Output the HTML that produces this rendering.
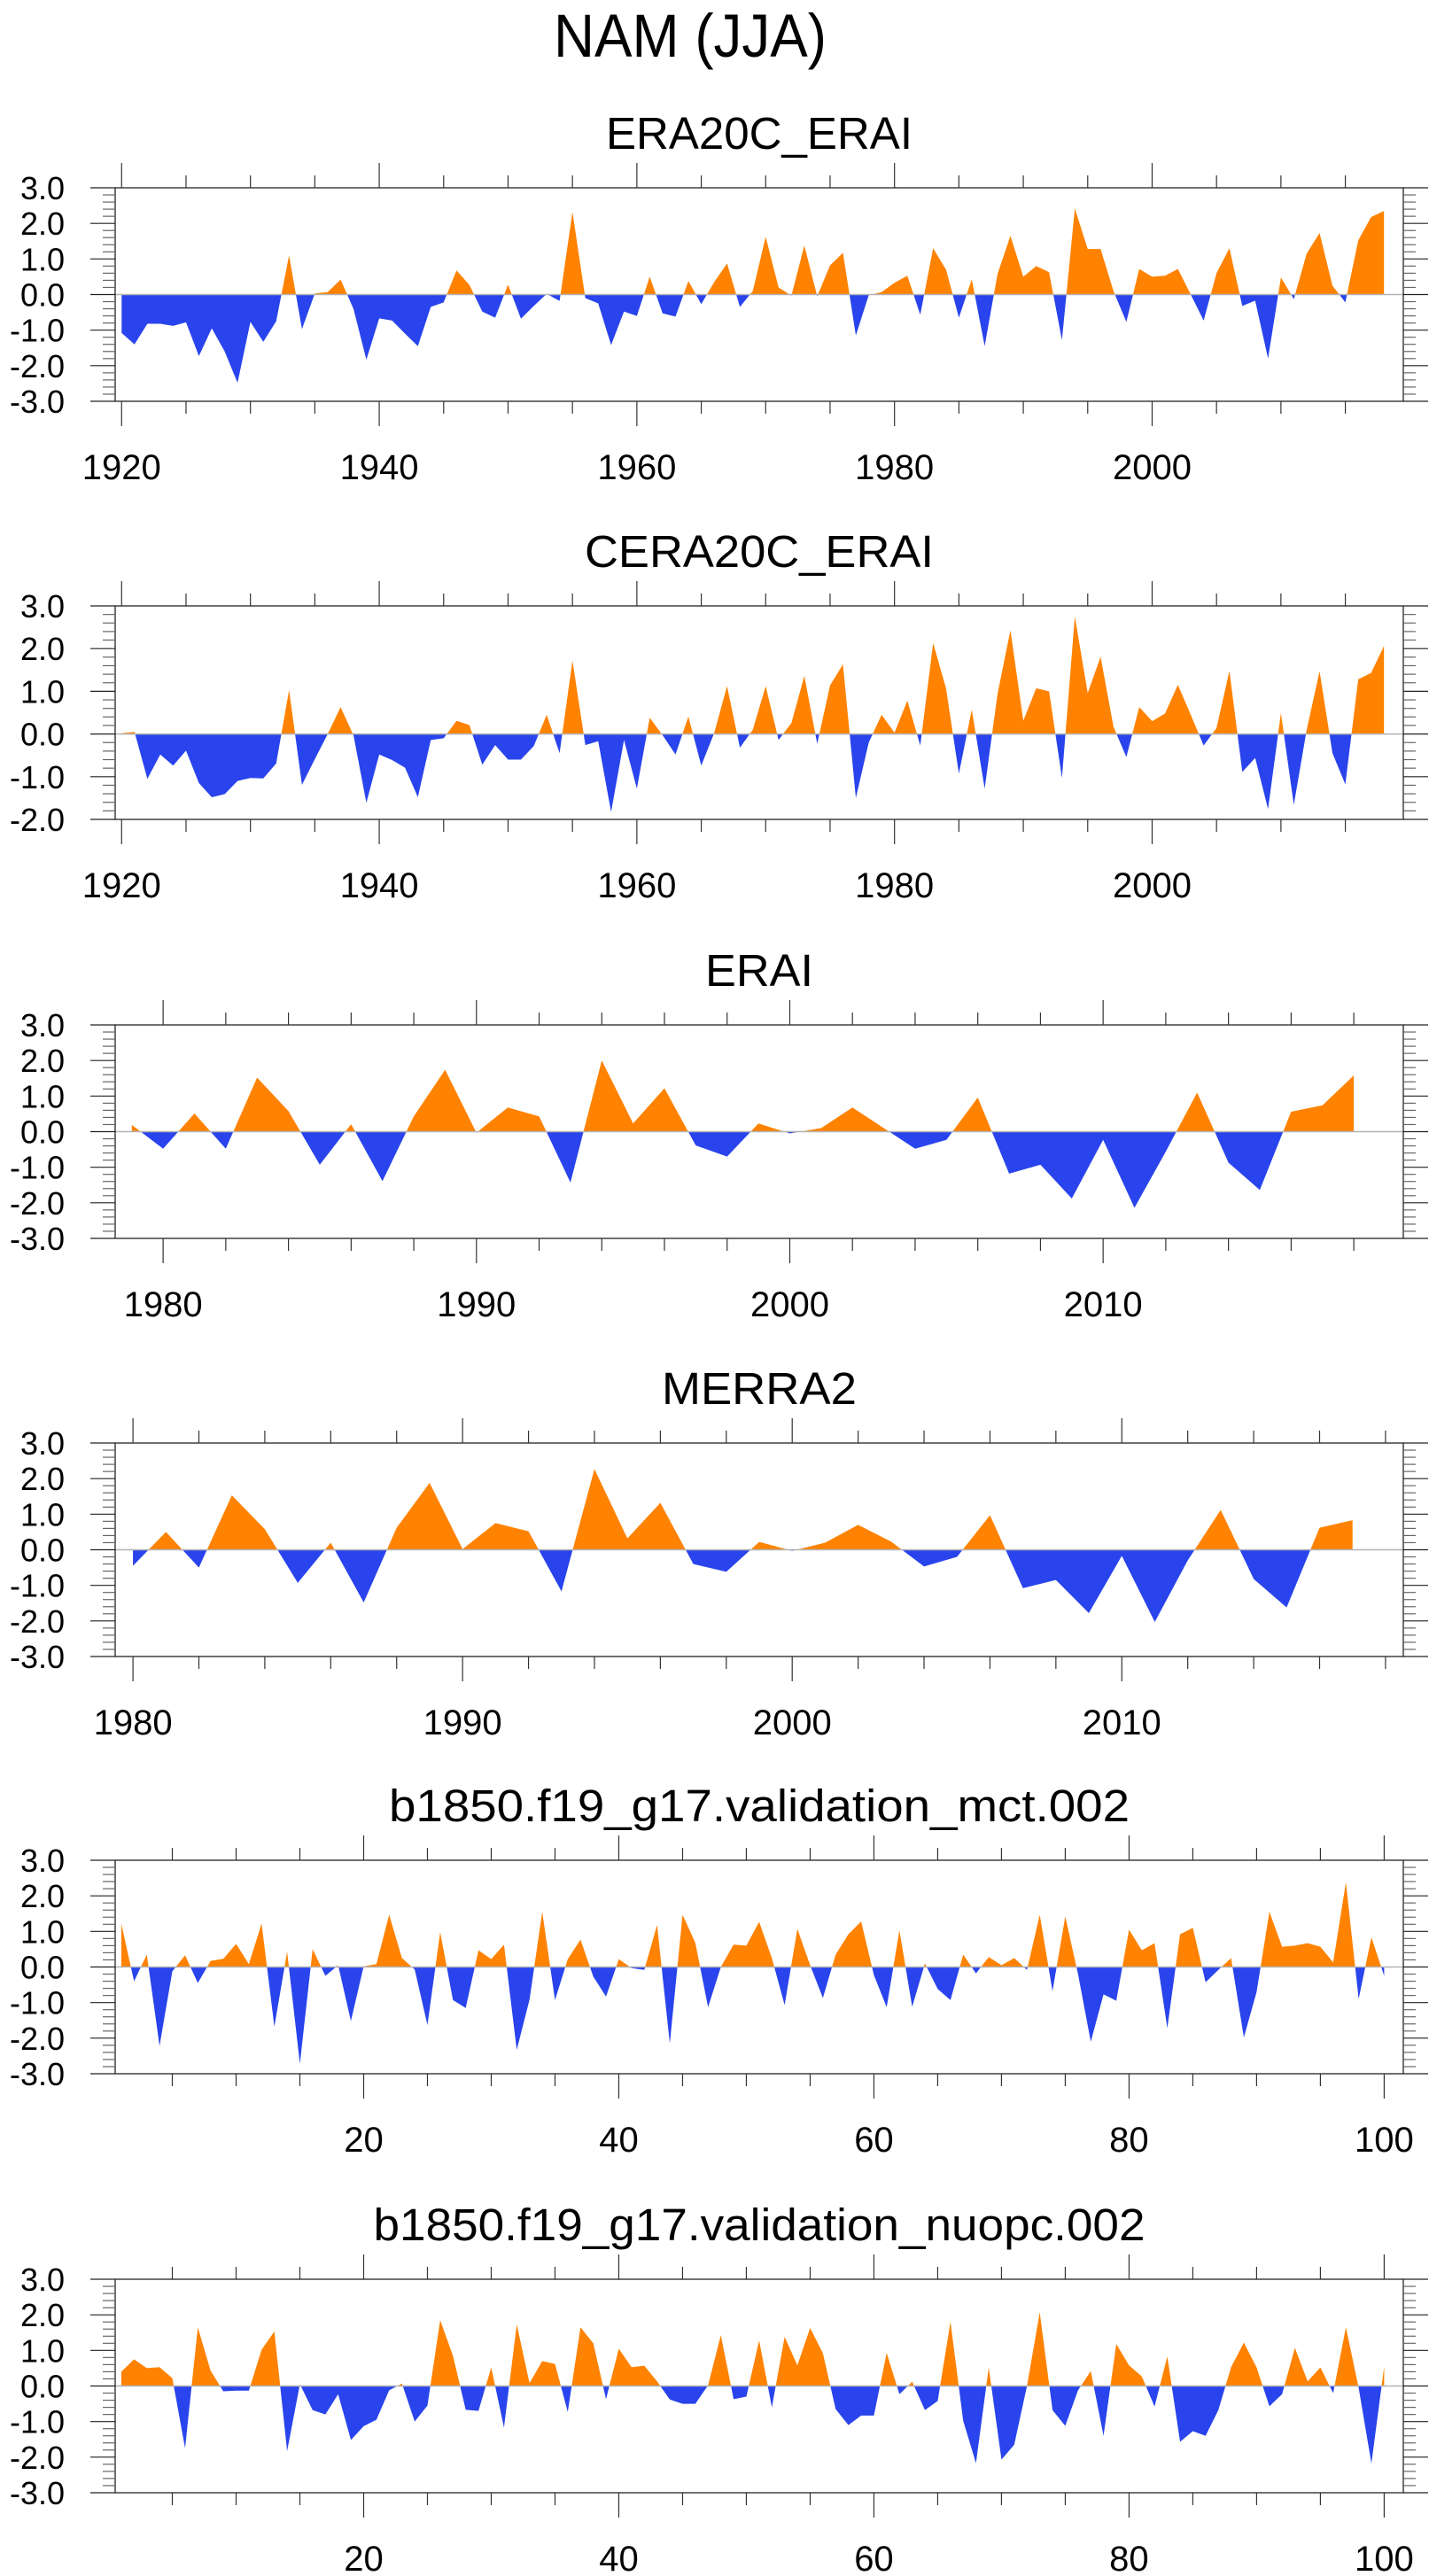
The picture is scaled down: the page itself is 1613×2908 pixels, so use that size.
<!DOCTYPE html>
<html><head><meta charset="utf-8"><title>NAM (JJA)</title>
<style>
html,body{margin:0;padding:0;background:#fff;}
svg{display:block;font-family:"Liberation Sans",Arial,sans-serif;}
</style></head>
<body>
<svg id="chart" width="1613" height="2908" viewBox="0 0 1613 2908" xmlns="http://www.w3.org/2000/svg">
<rect width="1613" height="2908" fill="#fff"/>
<text x="779" y="64" font-size="69" text-anchor="middle" textLength="308" lengthAdjust="spacingAndGlyphs">NAM (JJA)</text>
</svg>
<script>
// ---- data ----
const era20cStart = 1920;
const era20cValues = [-1.08,-1.4,-0.82,-0.82,-0.88,-0.78,-1.73,-0.95,-1.6,-2.48,-0.77,-1.33,-0.75,1.1,-0.97,0.03,0.07,0.42,-0.4,-1.83,-0.67,-0.73,-1.1,-1.45,-0.35,-0.22,0.68,0.27,-0.48,-0.65,0.28,-0.68,-0.32,0.02,-0.18,2.32,-0.1,-0.25,-1.42,-0.48,-0.6,0.5,-0.53,-0.62,0.38,-0.27,0.35,0.87,-0.35,0.1,1.62,0.2,-0.03,1.38,-0.05,0.82,1.17,-1.15,-0.02,0.07,0.33,0.53,-0.57,1.3,0.7,-0.65,0.43,-1.45,0.58,1.65,0.5,0.8,0.63,-1.28,2.42,1.28,1.28,0.1,-0.77,0.72,0.5,0.53,0.72,0.0,-0.73,0.6,1.3,-0.32,-0.17,-1.8,0.48,-0.13,1.15,1.73,0.25,-0.22,1.52,2.18,2.35];
const cera20cStart = 1920;
const cera20cValues = [0.02,0.05,-1.05,-0.48,-0.74,-0.39,-1.15,-1.48,-1.41,-1.1,-1.03,-1.04,-0.69,1.03,-1.19,-0.59,0.0,0.63,-0.03,-1.61,-0.48,-0.61,-0.79,-1.48,-0.14,-0.1,0.31,0.21,-0.72,-0.26,-0.6,-0.6,-0.28,0.45,-0.45,1.72,-0.26,-0.17,-1.83,-0.14,-1.28,0.38,-0.03,-0.48,0.41,-0.74,0.02,1.12,-0.32,0.1,1.12,-0.14,0.26,1.36,-0.23,1.14,1.63,-1.5,-0.2,0.45,0.03,0.78,-0.27,2.13,1.07,-0.93,0.57,-1.28,0.94,2.43,0.31,1.07,1.0,-1.03,2.75,0.96,1.81,0.17,-0.54,0.63,0.3,0.48,1.15,0.45,-0.27,0.14,1.48,-0.89,-0.56,-1.76,0.49,-1.66,0.1,1.47,-0.45,-1.18,1.28,1.43,2.06];
const eraiStart = 1979;
const eraiValues = [0.19,-0.48,0.51,-0.48,1.52,0.58,-0.93,0.21,-1.39,0.43,1.74,-0.03,0.68,0.43,-1.43,2.0,0.23,1.22,-0.39,-0.7,0.23,-0.05,0.1,0.68,0.1,-0.48,-0.23,0.96,-1.18,-0.93,-1.88,-0.23,-2.14,-0.56,1.1,-0.87,-1.64,0.56,0.74,1.58];
const merra2Start = 1980;
const merra2Values = [-0.45,0.5,-0.5,1.53,0.58,-0.93,0.2,-1.48,0.62,1.88,0.02,0.75,0.52,-1.17,2.27,0.32,1.32,-0.4,-0.62,0.22,-0.03,0.2,0.7,0.23,-0.47,-0.2,0.97,-1.08,-0.85,-1.78,-0.17,-2.03,-0.3,1.12,-0.82,-1.62,0.62,0.83];
const mctStart = 1;
const mctValues = [1.22,-0.4,0.35,-2.22,-0.12,0.33,-0.45,0.17,0.23,0.65,0.08,1.22,-1.68,0.43,-2.72,0.5,-0.25,0.05,-1.52,0.02,0.08,1.47,0.25,-0.07,-1.63,0.98,-0.93,-1.15,0.47,0.22,0.63,-2.33,-0.92,1.55,-0.93,0.22,0.77,-0.27,-0.83,0.22,-0.03,-0.08,1.18,-2.15,1.47,0.68,-1.13,0.0,0.63,0.6,1.27,0.25,-1.07,1.07,0.05,-0.87,0.35,0.92,1.28,-0.23,-1.13,1.03,-1.12,0.1,-0.62,-0.93,0.35,-0.18,0.28,0.05,0.25,-0.08,1.47,-0.68,1.42,-0.2,-2.1,-0.77,-0.95,1.05,0.47,0.67,-1.72,0.92,1.1,-0.43,-0.08,0.25,-1.98,-0.7,1.55,0.57,0.6,0.67,0.57,0.13,2.38,-0.9,0.83,-0.25];
const nuopcStart = 1;
const nuopcValues = [0.4,0.75,0.5,0.53,0.22,-1.75,1.65,0.43,-0.15,-0.13,-0.13,1.02,1.53,-1.83,0.05,-0.68,-0.8,-0.23,-1.52,-1.13,-0.95,-0.12,0.07,-1.0,-0.55,1.85,0.85,-0.67,-0.7,0.52,-1.17,1.73,0.08,0.7,0.62,-0.73,1.65,1.2,-0.37,1.05,0.53,0.57,0.13,-0.38,-0.5,-0.5,0.02,1.43,-0.37,-0.3,1.28,-0.6,1.38,0.58,1.63,0.92,-0.65,-1.1,-0.83,-0.83,0.93,-0.23,0.12,-0.68,-0.42,1.8,-0.98,-2.17,0.52,-2.07,-1.65,0.0,2.07,-0.68,-1.12,-0.12,0.42,-1.4,1.18,0.58,0.27,-0.58,0.83,-1.57,-1.27,-1.4,-0.68,0.53,1.22,0.52,-0.57,-0.23,1.07,0.13,0.52,-0.2,1.65,-0.05,-2.18,0.55];
const era20cTicks = [1920,1940,1960,1980,2000];
const eraiTicks = [1980,1990,2000,2010];
const expTicks = [20,40,60,80,100];
const yTicksFull = [3,2,1,0,-1,-2,-3];
const yTicksCera = [3,2,1,0,-1,-2];

// ---- layout ----
const NS = "http://www.w3.org/2000/svg";
const svg = document.getElementById('chart');
const FL = 130, FR = 1584;
const panels = [
 {name:'era20c-erai', title:'ERA20C_ERAI', tw:346, top:212, start:era20cStart, vals:era20cValues, xmin:1919.5, xmax:2019.5, ymin:-3, ymax:3, ticks:era20cTicks, minor:5, minorFrom:1920, yt:yTicksFull},
 {name:'cera20c-erai', title:'CERA20C_ERAI', tw:394, top:684, start:cera20cStart, vals:cera20cValues, xmin:1919.5, xmax:2019.5, ymin:-2, ymax:3, ticks:era20cTicks, minor:5, minorFrom:1920, yt:yTicksCera},
 {name:'erai', title:'ERAI', tw:122, top:1157, start:eraiStart, vals:eraiValues, xmin:1978.47, xmax:2019.58, ymin:-3, ymax:3, ticks:eraiTicks, minor:2, minorFrom:1980, yt:yTicksFull},
 {name:'merra2', title:'MERRA2', tw:220, top:1629, start:merra2Start, vals:merra2Values, xmin:1979.46, xmax:2018.54, ymin:-3, ymax:3, ticks:eraiTicks, minor:2, minorFrom:1980, yt:yTicksFull},
 {name:'mct', title:'b1850.f19_g17.validation_mct.002', tw:836, top:2100, start:mctStart, vals:mctValues, xmin:0.52, xmax:101.5, ymin:-3, ymax:3, ticks:expTicks, minor:5, minorFrom:5, yt:yTicksFull},
 {name:'nuopc', title:'b1850.f19_g17.validation_nuopc.002', tw:871, top:2573, start:nuopcStart, vals:nuopcValues, xmin:0.52, xmax:101.5, ymin:-3, ymax:3, ticks:expTicks, minor:5, minorFrom:5, yt:yTicksFull}
];

function mk(tag, attrs, parent){
  const e = document.createElementNS(NS, tag);
  for (const k in attrs) e.setAttribute(k, attrs[k]);
  (parent||svg).appendChild(e);
  return e;
}

panels.forEach(function(p){
  const H = 241;
  const ppu = H/(p.ymax - p.ymin);
  const top = p.top, bot = top + H;
  const X = function(v){ return FL + (v - p.xmin)/(p.xmax - p.xmin)*(FR-FL); };
  const Y = function(v){ return top + (p.ymax - v)*ppu; };
  const g = mk('g', {});
  
  

  const t = mk('text', {x:857, y:top-44, 'font-size':51, 'text-anchor':'middle', textLength:p.tw, lengthAdjust:'spacingAndGlyphs'}, g);
  t.textContent = p.title;
  
  

  const id = p.name;
  const defs = mk('defs', {}, g);
  const c1 = mk('clipPath', {id:id+'-pos'}, defs);
  mk('rect', {x:FL, y:top, width:FR-FL, height:Y(0)-top}, c1);
  const c2 = mk('clipPath', {id:id+'-neg'}, defs);
  mk('rect', {x:FL, y:Y(0), width:FR-FL, height:bot-Y(0)}, c2);
  let pts = [];
  p.vals.forEach(function(v,i){ pts.push(X(p.start+i).toFixed(2)+','+Y(v).toFixed(2)); });
  const x0 = X(p.start), x1 = X(p.start+p.vals.length-1);
  const poly = x0.toFixed(2)+','+Y(0)+' '+pts.join(' ')+' '+x1.toFixed(2)+','+Y(0);
  const pos = mk('polygon', {points:poly, fill:'#ff8200', 'clip-path':'url(#'+id+'-pos)'}, g);
  
  
  const neg = mk('polygon', {points:poly, fill:'#2944ec', 'clip-path':'url(#'+id+'-neg)'}, g);
  
  
  const zl = mk('line', {x1:FL, x2:FR, y1:Y(0), y2:Y(0), stroke:'#b4b4b4', 'stroke-width':1.5}, g);
  
  

  const fr = mk('rect', {x:FL, y:top, width:FR-FL, height:bot-top, fill:'none', stroke:'#333', 'stroke-width':1.4}, g);
  
  

  for (let k = 0; k <= Math.round((p.ymax - p.ymin)*5); k++) {
    const v = p.ymin + k*0.2;
    const yy = Y(v);
    const major = k % 5 === 0;
    const L = major ? 28 : 14;
    mk('line', {x1:FL-L, x2:FL, y1:yy, y2:yy, stroke:major?'#222':'#666', 'stroke-width':1.2}, g);
    mk('line', {x1:FR, x2:FR+L, y1:yy, y2:yy, stroke:major?'#222':'#666', 'stroke-width':1.2}, g);
  }
  p.yt.forEach(function(v){
    const lt = mk('text', {x:73, y:Y(v)+13, 'font-size':36, 'text-anchor':'end'}, g);
    lt.textContent = v.toFixed(1);
    
    
  });

  for (let v = p.minorFrom; v <= p.xmax; v += p.minor) {
    if (v < p.xmin) continue;
    const xx = X(v);
    const major = p.ticks.indexOf(v) >= 0;
    const L = major ? 28 : 14;
    mk('line', {x1:xx, x2:xx, y1:top-L, y2:top, stroke:'#333', 'stroke-width':1.2}, g);
    mk('line', {x1:xx, x2:xx, y1:bot, y2:bot+L, stroke:'#333', 'stroke-width':1.2}, g);
  }
  p.ticks.forEach(function(v){
    const xt = mk('text', {x:X(v), y:bot+88, 'font-size':40, 'text-anchor':'middle'}, g);
    xt.textContent = String(v);
    
    
  });
});
</script>
</body></html>
